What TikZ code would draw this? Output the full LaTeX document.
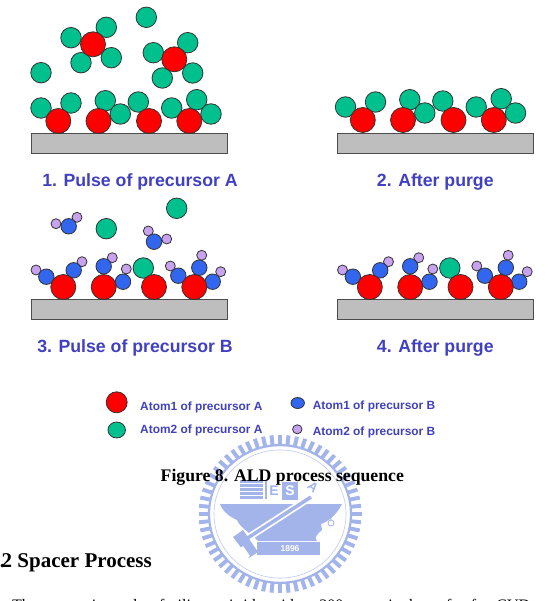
\documentclass[tikz,border=0pt]{standalone}
\usepackage{fontspec}
\usetikzlibrary{shapes.geometric}
\setmainfont{Liberation Serif}
\newfontfamily\labelfont{Liberation Sans}
\definecolor{atomred}{HTML}{FF0000}
\definecolor{atomgreen}{HTML}{00C08E}
\definecolor{atomblue}{HTML}{3366EE}
\definecolor{atompurple}{HTML}{C8A2EE}
\definecolor{slab}{HTML}{BEBEBE}
\definecolor{caption}{HTML}{4040C0}
\definecolor{seal}{HTML}{A3B4EA}
\tikzset{
  atom/.style={circle,draw=black!80,line width=0.8pt,inner sep=0pt,outer sep=0pt},
  redatom/.style={atom,fill=atomred,minimum size=25pt},
  greenatom/.style={atom,fill=atomgreen,minimum size=20.5pt},
  blueatom/.style={atom,fill=atomblue,minimum size=15.5pt},
  purpleatom/.style={atom,fill=atompurple,minimum size=10pt},
  substrate/.style={draw=black!70,line width=0.9pt,fill=slab},
  steplabel/.style={font=\labelfont\bfseries\fontsize{17.7}{20}\selectfont,text=caption,inner sep=0pt},
  legendlabel/.style={font=\labelfont\bfseries\fontsize{11.9}{13}\selectfont,text=caption,inner sep=0pt,anchor=west},
  legendatom/.style={ellipse,draw=black!80,line width=0.8pt,inner sep=0pt,outer sep=0pt}
}
% Four bonded atoms with their green neighbours
\newcommand{\greenlayer}[1]{%
  \foreach \n/\x/\y in {1/41/108,2/71/103,3/105.3/100.7,4/120.3/114,5/138.3/102,6/171.7/108,7/196.7/99.7,8/211/114}
    \node[greenatom] (#1g\n) at (\x,\y) {};
  \foreach \n/\x in {1/58.3,2/98.5,3/149,4/189.3}
    \node[redatom] (#1r\n) at (\x,121) {};
}
% Substrate after the second pulse, with blue/purple ligands
\newcommand{\bluelayer}[1]{%
  \draw[substrate] (31,299) rectangle (227,319);
  \foreach \n/\x/\y in {1/36/270,2/82/261.7,3/112.3/257.7,4/126.3/269,5/170.3/266,6/201.7/255.3,7/220.7/271.7}
    \node[purpleatom] (#1p\n) at (\x,\y) {};
  \foreach \n/\x/\y in {1/46.3/276.7,2/73.7/270.3,3/103.7/266.3,4/123/281.7,5/178.3/275.7,6/199.3/267.7,7/212.7/281.7}
    \node[blueatom] (#1b\n) at (\x,\y) {};
  \node[greenatom] (#1g) at (143.3,268) {};
  \foreach \n/\x in {1/63.3,2/103.7,3/154,4/194.3}
    \node[redatom] (#1r\n) at (\x,287) {};
}
\begin{document}
\begin{tikzpicture}[x=1pt,y=-1pt]
\useasboundingbox (0,0) rectangle (558,601);

% University seal behind the caption
\begin{scope}[shift={(280,514)},yscale=0.97]
  \foreach \a in {0,6,...,354}
    \fill[seal,rotate=\a] (70.5,-2) rectangle (81.5,2);
  \draw[seal,line width=2.2pt] (0,0) circle[radius=71];
  \draw[seal!70,line width=0.6pt] (0,0) circle[radius=66];
\end{scope}
% anvil body
\fill[seal] (220,504) -- (342,504) .. controls (336,516) and (327,522) .. (321,524)
  -- (322,530) .. controls (316,535) and (314,538) .. (317,541)
  -- (258,541) .. controls (252,534) and (240,528) .. (237,520)
  .. controls (230,517) and (223,512) .. (220,504) -- cycle;
% date plate
\fill[seal] (257,542) rectangle (320,555);
\node[font=\labelfont\bfseries\fontsize{8.5}{10}\selectfont,text=white,inner sep=0pt] (year) at (290,549) {1896};
% hammer with white outline
\draw[white,line width=7pt] (243,541) -- (311,497);
\draw[seal,line width=3.5pt] (243,541) -- (311,497);
\fill[seal] (233,537) -- (243,530) -- (258,552) -- (249,558) -- cycle;
\fill[white] (239,549) -- (243,546) -- (250,556) -- (246,559) -- cycle;
% book, letters
\foreach \y in {480,484,488,492,496}
  \fill[seal] (240,\y) rectangle (263,\y+2.6);
\fill[seal] (265,481) rectangle (266.5,499);
\node[font=\labelfont\bfseries\fontsize{14}{16}\selectfont,text=seal,inner sep=0pt] (letterE) at (274,491) {E};
\fill[seal] (282,482) rectangle (298,500);
\node[font=\labelfont\bfseries\fontsize{14}{16}\selectfont,text=white,inner sep=0pt] (letterS) at (290,491) {S};
\node[font=\labelfont\bfseries\fontsize{13}{15}\selectfont,text=seal,inner sep=0pt,rotate=-40] (letterA) at (313,487) {A};
\draw[seal,line width=1pt] (330,513) -- (331,520);
\draw[seal,line width=0.8pt] (331,523) circle[radius=3];

% Panel 1: pulse of precursor A
\draw[substrate] (31,133) rectangle (227,153);
\greenlayer{a}
\foreach \n/\x/\y in {1/146.3/17.3,2/71/37.7,3/106.3/27.3,4/81/62.7,5/111.3/57.7,6/153.3/52.7,7/187.7/42.7,8/162.3/78,9/192.7/73,10/41/72.7}
  \node[greenatom] (af\n) at (\x,\y) {};
\node[redatom] (afr1) at (93,44.3) {};
\node[redatom] (afr2) at (174.3,59.3) {};
\node[steplabel] (stepa) at (140,181.5) {1. Pulse of precursor A};

% Panel 2: after purge
\draw[substrate] (337.3,133) rectangle (533.3,153);
\begin{scope}[shift={(304.5,-1)}]
  \greenlayer{b}
\end{scope}
\node[steplabel] (stepb) at (435.3,181.5) {2. After purge};

% Panel 3: pulse of precursor B
\bluelayer{c}
\foreach \n/\x/\y in {1/56/223.7,2/77/217.3,3/148.3/231,4/166.7/239}
  \node[purpleatom] (cfp\n) at (\x,\y) {};
\node[blueatom] (cfb1) at (68.7,226.3) {};
\node[blueatom] (cfb2) at (154,241.7) {};
\node[greenatom] (cfg1) at (106.3,228.7) {};
\node[greenatom] (cfg2) at (176.7,208.3) {};
\node[steplabel] (stepc) at (135,347.5) {3. Pulse of precursor B};

% Panel 4: after purge
\begin{scope}[shift={(306.5,0)}]
  \bluelayer{d}
\end{scope}
\node[steplabel] (stepd) at (435.3,348) {4. After purge};

% Legend
\node[legendatom,fill=atomred,minimum width=21pt,minimum height=21pt] (lega) at (116.7,402.3) {};
\node[legendatom,fill=atomgreen,minimum width=17.5pt,minimum height=16pt] (legb) at (116.7,430) {};
\node[legendatom,fill=atomblue,minimum width=13.5pt,minimum height=11pt] (legc) at (297.7,403) {};
\node[legendatom,fill=atompurple,minimum width=9.5pt,minimum height=9pt] (legd) at (297.3,429.3) {};
\node[legendlabel] (txta) at (140,407.5) {Atom1 of precursor A};
\node[legendlabel] (txtb) at (140,430.5) {Atom2 of precursor A};
\node[legendlabel] (txtc) at (312.7,406) {Atom1 of precursor B};
\node[legendlabel] (txtd) at (312.7,432) {Atom2 of precursor B};

% Caption and running text
\node[font=\bfseries\fontsize{17.7}{20}\selectfont,inner sep=0pt,anchor=base] (fig) at (282.3,481.5) {Figure 8. ALD process sequence};
\node[font=\bfseries\fontsize{21}{24}\selectfont,inner sep=0pt,anchor=base east] (sec) at (152,567) {.\kern-3.5pt 2 Spacer Process};
\node[font=\fontsize{16}{18}\selectfont,inner sep=0pt,anchor=base west] (body) at (12,610)
  {\hbox to 518pt{The spacer is made of silicon nitride with a 300 mm single wafer for CVD}};
\end{tikzpicture}
\end{document}
